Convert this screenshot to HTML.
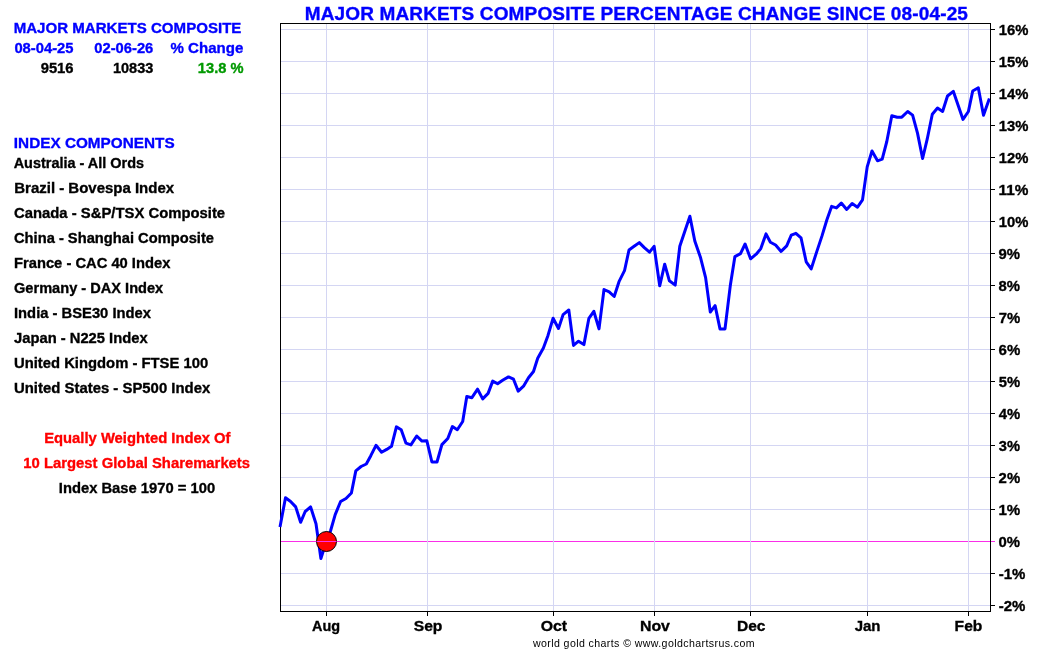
<!DOCTYPE html>
<html><head><meta charset="utf-8"><title>Major Markets Composite</title>
<style>
html,body{margin:0;padding:0;background:#fff;}
body{width:1050px;height:650px;overflow:hidden;}
svg{display:block;}
text{font-family:"Liberation Sans",Arial,sans-serif;font-weight:bold;}
.lh,.lc,.li,.yl,.xl,.title{stroke:currentColor;stroke-width:0.35px;}
.b,.lh,.title{color:#0000ff;} .k,.li,.yl,.xl{color:#000;} .g{color:#009900;} .rd{color:#ff0000;}
.title{fill:#0000ff;}
.yl{font-size:14px;fill:#000;}
.xl{fill:#000;}
.foot{font-weight:normal;fill:#000;}
.lh{font-size:15px;fill:#0000ff;}
.lc{font-size:14px;}
.li{font-size:14px;fill:#000;}
.b{fill:#0000ff;} .k{fill:#000;} .g{fill:#009900;} .rd{fill:#ff0000;}
.r{text-anchor:end;} .m{text-anchor:middle;}
</style></head>
<body>
<svg width="1050" height="650" viewBox="0 0 1050 650">
<rect width="1050" height="650" fill="#fff"/>
<line x1="281" y1="29.5" x2="990" y2="29.5" stroke="#d4d6f3" stroke-width="1"/>
<line x1="991" y1="29.5" x2="995" y2="29.5" stroke="#000" stroke-width="1"/>
<line x1="281" y1="61.5" x2="990" y2="61.5" stroke="#d4d6f3" stroke-width="1"/>
<line x1="991" y1="61.5" x2="995" y2="61.5" stroke="#000" stroke-width="1"/>
<line x1="281" y1="93.5" x2="990" y2="93.5" stroke="#d4d6f3" stroke-width="1"/>
<line x1="991" y1="93.5" x2="995" y2="93.5" stroke="#000" stroke-width="1"/>
<line x1="281" y1="125.5" x2="990" y2="125.5" stroke="#d4d6f3" stroke-width="1"/>
<line x1="991" y1="125.5" x2="995" y2="125.5" stroke="#000" stroke-width="1"/>
<line x1="281" y1="157.5" x2="990" y2="157.5" stroke="#d4d6f3" stroke-width="1"/>
<line x1="991" y1="157.5" x2="995" y2="157.5" stroke="#000" stroke-width="1"/>
<line x1="281" y1="189.5" x2="990" y2="189.5" stroke="#d4d6f3" stroke-width="1"/>
<line x1="991" y1="189.5" x2="995" y2="189.5" stroke="#000" stroke-width="1"/>
<line x1="281" y1="221.5" x2="990" y2="221.5" stroke="#d4d6f3" stroke-width="1"/>
<line x1="991" y1="221.5" x2="995" y2="221.5" stroke="#000" stroke-width="1"/>
<line x1="281" y1="253.5" x2="990" y2="253.5" stroke="#d4d6f3" stroke-width="1"/>
<line x1="991" y1="253.5" x2="995" y2="253.5" stroke="#000" stroke-width="1"/>
<line x1="281" y1="285.5" x2="990" y2="285.5" stroke="#d4d6f3" stroke-width="1"/>
<line x1="991" y1="285.5" x2="995" y2="285.5" stroke="#000" stroke-width="1"/>
<line x1="281" y1="317.5" x2="990" y2="317.5" stroke="#d4d6f3" stroke-width="1"/>
<line x1="991" y1="317.5" x2="995" y2="317.5" stroke="#000" stroke-width="1"/>
<line x1="281" y1="349.5" x2="990" y2="349.5" stroke="#d4d6f3" stroke-width="1"/>
<line x1="991" y1="349.5" x2="995" y2="349.5" stroke="#000" stroke-width="1"/>
<line x1="281" y1="381.5" x2="990" y2="381.5" stroke="#d4d6f3" stroke-width="1"/>
<line x1="991" y1="381.5" x2="995" y2="381.5" stroke="#000" stroke-width="1"/>
<line x1="281" y1="413.5" x2="990" y2="413.5" stroke="#d4d6f3" stroke-width="1"/>
<line x1="991" y1="413.5" x2="995" y2="413.5" stroke="#000" stroke-width="1"/>
<line x1="281" y1="445.5" x2="990" y2="445.5" stroke="#d4d6f3" stroke-width="1"/>
<line x1="991" y1="445.5" x2="995" y2="445.5" stroke="#000" stroke-width="1"/>
<line x1="281" y1="477.5" x2="990" y2="477.5" stroke="#d4d6f3" stroke-width="1"/>
<line x1="991" y1="477.5" x2="995" y2="477.5" stroke="#000" stroke-width="1"/>
<line x1="281" y1="509.5" x2="990" y2="509.5" stroke="#d4d6f3" stroke-width="1"/>
<line x1="991" y1="509.5" x2="995" y2="509.5" stroke="#000" stroke-width="1"/>
<line x1="281" y1="541.5" x2="990" y2="541.5" stroke="#fa2ee8" stroke-width="1"/>
<line x1="991" y1="541.5" x2="995" y2="541.5" stroke="#fa2ee8" stroke-width="1"/>
<line x1="281" y1="573.5" x2="990" y2="573.5" stroke="#d4d6f3" stroke-width="1"/>
<line x1="991" y1="573.5" x2="995" y2="573.5" stroke="#000" stroke-width="1"/>
<line x1="281" y1="605.5" x2="990" y2="605.5" stroke="#d4d6f3" stroke-width="1"/>
<line x1="991" y1="605.5" x2="995" y2="605.5" stroke="#000" stroke-width="1"/>
<line x1="326.5" y1="24" x2="326.5" y2="611" stroke="#d4d6f3" stroke-width="1"/>
<line x1="326.5" y1="612" x2="326.5" y2="616" stroke="#000" stroke-width="1"/>
<line x1="427.5" y1="24" x2="427.5" y2="611" stroke="#d4d6f3" stroke-width="1"/>
<line x1="427.5" y1="612" x2="427.5" y2="616" stroke="#000" stroke-width="1"/>
<line x1="553.5" y1="24" x2="553.5" y2="611" stroke="#d4d6f3" stroke-width="1"/>
<line x1="553.5" y1="612" x2="553.5" y2="616" stroke="#000" stroke-width="1"/>
<line x1="654.5" y1="24" x2="654.5" y2="611" stroke="#d4d6f3" stroke-width="1"/>
<line x1="654.5" y1="612" x2="654.5" y2="616" stroke="#000" stroke-width="1"/>
<line x1="750.5" y1="24" x2="750.5" y2="611" stroke="#d4d6f3" stroke-width="1"/>
<line x1="750.5" y1="612" x2="750.5" y2="616" stroke="#000" stroke-width="1"/>
<line x1="867.5" y1="24" x2="867.5" y2="611" stroke="#d4d6f3" stroke-width="1"/>
<line x1="867.5" y1="612" x2="867.5" y2="616" stroke="#000" stroke-width="1"/>
<line x1="968.5" y1="24" x2="968.5" y2="611" stroke="#d4d6f3" stroke-width="1"/>
<line x1="968.5" y1="612" x2="968.5" y2="616" stroke="#000" stroke-width="1"/>
<rect x="280.5" y="23.5" width="710" height="588" fill="none" stroke="#000" stroke-width="1"/>
<path d="M280.0,527.0 L285.5,497.7 L290.6,501.5 L295.7,506.9 L300.6,522.3 L305.2,511.5 L310.6,506.9 L316.0,523.8 L320.9,558.5 L325.8,543.0 L330.5,531.0 L335.2,514.6 L340.6,501.5 L346.0,498.5 L351.4,493.0 L355.8,470.9 L361.1,466.5 L366.3,464.0 L370.8,455.7 L376.0,445.3 L381.6,452.2 L386.7,449.4 L391.5,446.3 L396.4,426.9 L401.2,429.7 L406.0,443.2 L410.9,444.9 L416.7,436.0 L422.0,441.1 L426.8,440.7 L431.9,462.0 L437.0,462.0 L441.9,444.6 L447.8,438.5 L452.4,426.6 L457.3,429.7 L462.7,421.5 L466.8,396.5 L471.9,397.7 L477.6,389.2 L482.7,398.9 L488.1,393.4 L492.7,381.1 L497.6,383.8 L503.0,380.0 L508.5,376.9 L513.5,379.2 L518.2,391.1 L523.8,385.8 L528.5,377.7 L533.5,371.5 L537.7,358.2 L543.4,348.0 L548.0,335.4 L553.1,318.2 L558.5,328.5 L563.1,314.6 L568.8,310.0 L573.5,345.4 L578.5,341.2 L583.9,344.6 L588.9,318.3 L593.8,311.3 L599.0,328.9 L604.0,289.5 L609.2,291.9 L614.2,296.5 L619.0,281.7 L624.5,270.7 L629.0,250.0 L634.1,246.3 L639.3,242.6 L644.3,247.6 L649.5,252.2 L654.1,246.3 L659.7,285.8 L664.7,264.2 L669.4,280.8 L675.2,285.1 L679.8,246.3 L684.5,232.3 L689.9,216.2 L694.8,241.0 L700.6,257.8 L705.6,277.6 L710.3,312.1 L715.1,305.6 L720.0,328.9 L725.0,328.9 L730.3,285.6 L734.9,256.6 L740.5,253.6 L745.1,244.0 L750.6,258.8 L756.2,254.2 L760.8,248.6 L766.0,233.9 L770.4,242.2 L775.6,245.0 L781.1,251.4 L786.7,245.9 L791.3,235.2 L795.9,233.3 L801.0,237.8 L806.2,261.8 L811.2,268.9 L816.6,252.1 L822.0,235.9 L826.9,219.7 L831.6,206.4 L836.4,207.9 L841.3,203.1 L846.7,209.4 L852.1,203.6 L857.5,207.2 L862.5,199.9 L867.2,166.9 L872.0,151.0 L877.5,160.8 L882.2,159.2 L886.8,141.5 L891.8,115.7 L897.2,117.2 L901.8,117.2 L907.7,111.5 L912.6,115.1 L917.5,133.1 L922.6,158.5 L927.2,139.2 L932.3,114.2 L937.5,108.0 L942.6,111.5 L947.5,96.0 L953.3,91.3 L958.2,105.6 L963.0,119.4 L968.4,111.5 L972.7,91.0 L978.3,87.8 L983.5,115.3 L989.4,98.4" fill="none" stroke="#0000ff" stroke-width="3" stroke-linejoin="round"/>
<line x1="990.5" y1="23" x2="990.5" y2="612" stroke="#000" stroke-width="1"/>
<circle cx="326.5" cy="541.5" r="10" fill="#ff0000" stroke="#000" stroke-width="1"/>
<line x1="316.5" y1="541.5" x2="336.5" y2="541.5" stroke="#fa2ee8" stroke-width="1"/>
<text id="title" x="304.67" y="20" class="title" style="font-size:19px" textLength="663.28" lengthAdjust="spacing">MAJOR MARKETS COMPOSITE PERCENTAGE CHANGE SINCE 08-04-25</text>
<text id="foot" x="532.93" y="646.5" class="foot" style="font-size:10.6px" textLength="221.60" lengthAdjust="spacing">world gold charts &#169; www.goldchartsrus.com</text>
<text id="h1" x="13.70" y="33" class="lh" style="font-size:15.5px" textLength="227.70" lengthAdjust="spacingAndGlyphs">MAJOR MARKETS COMPOSITE</text>
<text id="d1" x="14.38" y="53" class="lc b" style="font-size:15.5px" textLength="59.11" lengthAdjust="spacingAndGlyphs">08-04-25</text>
<text id="d2" x="94.32" y="53" class="lc b" style="font-size:15.5px" textLength="58.99" lengthAdjust="spacingAndGlyphs">02-06-26</text>
<text id="d3" x="170.50" y="53" class="lc b" style="font-size:15.5px" textLength="72.80" lengthAdjust="spacingAndGlyphs">% Change</text>
<text id="v1" x="40.66" y="73" class="lc k" style="font-size:15.5px" textLength="32.89" lengthAdjust="spacingAndGlyphs">9516</text>
<text id="v2" x="112.95" y="73" class="lc k" style="font-size:15.5px" textLength="40.47" lengthAdjust="spacingAndGlyphs">10833</text>
<text id="v3" x="197.83" y="73" class="lc g" style="font-size:15.5px" textLength="45.71" lengthAdjust="spacingAndGlyphs">13.8 %</text>
<text id="h2" x="13.87" y="148" class="lh" style="font-size:15.5px" textLength="160.74" lengthAdjust="spacingAndGlyphs">INDEX COMPONENTS</text>
<text id="c0" x="13.67" y="168" class="li" style="font-size:15.5px" textLength="130.39" lengthAdjust="spacingAndGlyphs">Australia - All Ords</text>
<text id="c1" x="14.25" y="193" class="li" style="font-size:15.5px" textLength="159.84" lengthAdjust="spacingAndGlyphs">Brazil - Bovespa Index</text>
<text id="c2" x="14.00" y="218" class="li" style="font-size:15.5px" textLength="211.09" lengthAdjust="spacingAndGlyphs">Canada - S&amp;P/TSX Composite</text>
<text id="c3" x="14.00" y="243" class="li" style="font-size:15.5px" textLength="199.96" lengthAdjust="spacingAndGlyphs">China - Shanghai Composite</text>
<text id="c4" x="14.00" y="268" class="li" style="font-size:15.5px" textLength="156.33" lengthAdjust="spacingAndGlyphs">France - CAC 40 Index</text>
<text id="c5" x="14.00" y="293" class="li" style="font-size:15.5px" textLength="149.20" lengthAdjust="spacingAndGlyphs">Germany - DAX Index</text>
<text id="c6" x="14.00" y="318" class="li" style="font-size:15.5px" textLength="136.98" lengthAdjust="spacingAndGlyphs">India - BSE30 Index</text>
<text id="c7" x="14.00" y="343" class="li" style="font-size:15.5px" textLength="133.66" lengthAdjust="spacingAndGlyphs">Japan - N225 Index</text>
<text id="c8" x="14.00" y="368" class="li" style="font-size:15.5px" textLength="194.14" lengthAdjust="spacingAndGlyphs">United Kingdom - FTSE 100</text>
<text id="c9" x="14.00" y="393" class="li" style="font-size:15.5px" textLength="196.23" lengthAdjust="spacingAndGlyphs">United States - SP500 Index</text>
<text id="r1" x="44.16" y="443" class="lc rd" style="font-size:15.5px" textLength="186.40" lengthAdjust="spacingAndGlyphs">Equally Weighted Index Of</text>
<text id="r2" x="23.37" y="468" class="lc rd" style="font-size:15.5px" textLength="226.71" lengthAdjust="spacingAndGlyphs">10 Largest Global Sharemarkets</text>
<text id="r3" x="58.82" y="493" class="lc k" style="font-size:15.5px" textLength="156.32" lengthAdjust="spacingAndGlyphs">Index Base 1970 = 100</text>
<text id="y16" x="998.70" y="35" class="yl" style="font-size:15.5px" textLength="29.61" lengthAdjust="spacingAndGlyphs">16%</text>
<text id="y15" x="998.70" y="67" class="yl" style="font-size:15.5px" textLength="29.61" lengthAdjust="spacingAndGlyphs">15%</text>
<text id="y14" x="998.70" y="99" class="yl" style="font-size:15.5px" textLength="29.61" lengthAdjust="spacingAndGlyphs">14%</text>
<text id="y13" x="998.70" y="131" class="yl" style="font-size:15.5px" textLength="29.61" lengthAdjust="spacingAndGlyphs">13%</text>
<text id="y12" x="998.70" y="163" class="yl" style="font-size:15.5px" textLength="29.61" lengthAdjust="spacingAndGlyphs">12%</text>
<text id="y11" x="998.60" y="195" class="yl" style="font-size:15.5px" textLength="29.86" lengthAdjust="spacingAndGlyphs">11%</text>
<text id="y10" x="998.70" y="227" class="yl" style="font-size:15.5px" textLength="29.61" lengthAdjust="spacingAndGlyphs">10%</text>
<text id="y9" x="998.53" y="259" class="yl" style="font-size:15.5px" textLength="21.54" lengthAdjust="spacingAndGlyphs">9%</text>
<text id="y8" x="998.58" y="291" class="yl" style="font-size:15.5px" textLength="21.50" lengthAdjust="spacingAndGlyphs">8%</text>
<text id="y7" x="998.76" y="323" class="yl" style="font-size:15.5px" textLength="21.51" lengthAdjust="spacingAndGlyphs">7%</text>
<text id="y6" x="998.59" y="355" class="yl" style="font-size:15.5px" textLength="21.66" lengthAdjust="spacingAndGlyphs">6%</text>
<text id="y5" x="998.67" y="387" class="yl" style="font-size:15.5px" textLength="21.43" lengthAdjust="spacingAndGlyphs">5%</text>
<text id="y4" x="998.70" y="419" class="yl" style="font-size:15.5px" textLength="21.48" lengthAdjust="spacingAndGlyphs">4%</text>
<text id="y3" x="998.84" y="451" class="yl" style="font-size:15.5px" textLength="21.23" lengthAdjust="spacingAndGlyphs">3%</text>
<text id="y2" x="998.62" y="483" class="yl" style="font-size:15.5px" textLength="21.51" lengthAdjust="spacingAndGlyphs">2%</text>
<text id="y1" x="998.40" y="515" class="yl" style="font-size:15.5px" textLength="21.84" lengthAdjust="spacingAndGlyphs">1%</text>
<text id="y0" x="998.55" y="547" class="yl" style="font-size:15.5px" textLength="21.53" lengthAdjust="spacingAndGlyphs">0%</text>
<text id="y-1" x="998.74" y="579" class="yl" style="font-size:15.5px" textLength="26.68" lengthAdjust="spacingAndGlyphs">-1%</text>
<text id="y-2" x="998.74" y="611" class="yl" style="font-size:15.5px" textLength="26.68" lengthAdjust="spacingAndGlyphs">-2%</text>
<text id="mAug" x="311.98" y="631" class="xl" style="font-size:15.5px" textLength="28.05" lengthAdjust="spacingAndGlyphs">Aug</text>
<text id="mSep" x="413.70" y="631" class="xl" style="font-size:15.5px" textLength="28.77" lengthAdjust="spacingAndGlyphs">Sep</text>
<text id="mOct" x="540.69" y="631" class="xl" style="font-size:15.5px" textLength="26.40" lengthAdjust="spacingAndGlyphs">Oct</text>
<text id="mNov" x="639.93" y="631" class="xl" style="font-size:15.5px" textLength="30.01" lengthAdjust="spacingAndGlyphs">Nov</text>
<text id="mDec" x="736.98" y="631" class="xl" style="font-size:15.5px" textLength="28.43" lengthAdjust="spacingAndGlyphs">Dec</text>
<text id="mJan" x="854.63" y="631" class="xl" style="font-size:15.5px" textLength="25.83" lengthAdjust="spacingAndGlyphs">Jan</text>
<text id="mFeb" x="954.61" y="631" class="xl" style="font-size:15.5px" textLength="27.72" lengthAdjust="spacingAndGlyphs">Feb</text>
</svg>
</body></html>
